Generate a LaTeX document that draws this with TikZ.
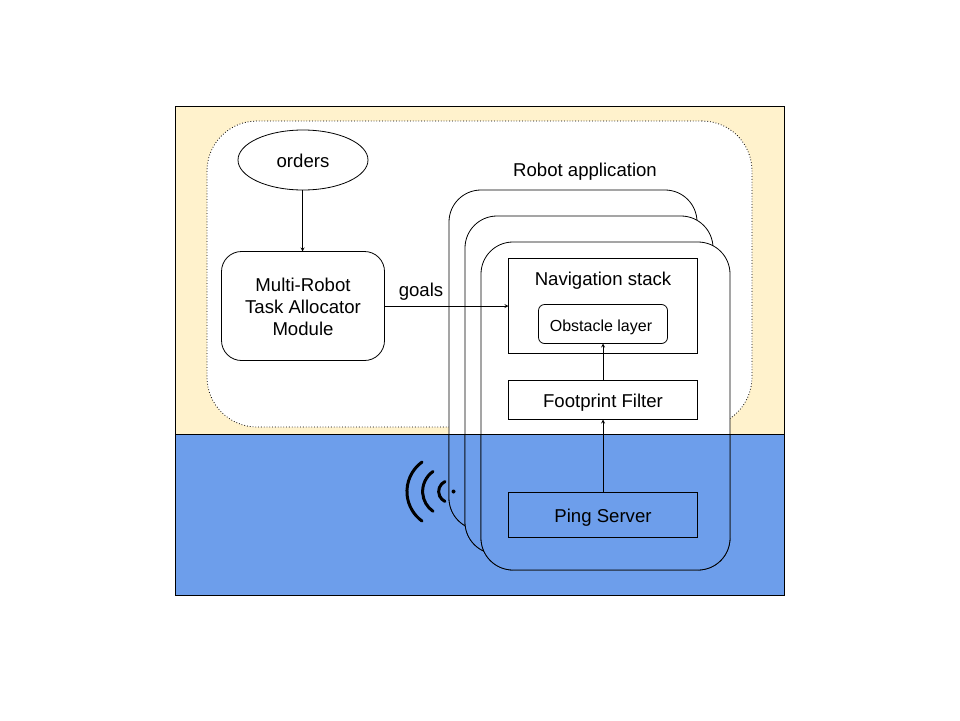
\documentclass[tikz,border=0pt]{standalone}
\usepackage{fontspec}
\setmainfont{Liberation Sans}
\usetikzlibrary{shapes.geometric}
\definecolor{sandfill}{HTML}{FFF2CC}
\definecolor{seafill}{HTML}{6D9EEB}
\tikzset{
  boxstyle/.style = {draw, line width = 0.8pt, inner sep = 0pt, outer sep = 0pt},
  robotbox/.style = {boxstyle, rounded corners = 32pt, minimum width = 248pt, minimum height = 328pt},
  wideblock/.style = {boxstyle, minimum width = 189pt},
  flow/.style = {line width = 0.8pt, -stealth},
  label/.style = {font = \fontsize{18.6}{22}\selectfont, align = center},
  wave/.style = {line width = 3pt, line cap = round}
}
\begin{document}
\begin{tikzpicture} [x = 1pt, y = -1pt]
\useasboundingbox (0, 0) rectangle (960, 720);
% background bands
\node[boxstyle, fill = sandfill, minimum width = 609pt, minimum height = 328pt] (sand) at (480, 270.5){};
\node[boxstyle, fill = seafill, minimum width = 609pt, minimum height = 161pt] (sea) at (480, 515){};
\node[draw, dotted, line width = 0.8pt, fill = white, rounded corners = 50pt, inner sep = 0pt, minimum width = 545pt, minimum height = 306pt] (cloud) at (479.5, 274){};

% robot stack, white above the band line and blue below it
\node[robotbox, fill = white, minimum height = 340pt] (robotback) at (573, 360){};
\begin{scope}
\clip (175.5, 434) rectangle (784.5, 595.5);
\node[robotbox, fill = seafill, minimum height = 340pt] (robotbacksea) at (573, 360){};
\end{scope}
\node[robotbox, fill = white, minimum height = 338pt] (robotmid) at (589, 385){};
\begin{scope}
\clip (175.5, 434) rectangle (784.5, 595.5);
\node[robotbox, fill = seafill, minimum height = 338pt] (robotmidsea) at (589, 385){};
\end{scope}
\node[robotbox, fill = white, minimum width = 249pt] (robotfront) at (605.5, 406){};
\begin{scope}
\clip (175.5, 434) rectangle (784.5, 595.5);
\node[robotbox, fill = seafill, minimum width = 249pt] (robotfrontsea) at (605.5, 406){};
\end{scope}
\draw[line width = 0.8pt] (sea.north west) -- (sea.north east);

% allocator side
\node[boxstyle, ellipse, minimum width = 130pt, minimum height = 60pt] (orders) at (303, 160){};
\node[label] (orderstext) at (303, 161){orders};
\node[boxstyle, rounded corners = 20pt, minimum width = 163pt, minimum height = 109pt] (allocator) at (303, 306){};
\node[label] (allocatortext) at (303, 306.5){Multi-Robot\\Task Allocator\\Module};
\node[label] (goals) at (421, 292){goals};
\node[label] (robotapp) at (585, 172){Robot application};

% inner blocks
\node[wideblock, minimum height = 95pt] (navstack) at (603, 306){};
\node[label] (navtext) at (603, 281){Navigation stack};
\node[boxstyle, rounded corners = 6pt, minimum width = 129pt, minimum height = 39pt] (obstacle) at (603, 324){};
\node[label, font = \fontsize{16}{18}\selectfont] (obstacletext) at (601, 327.5){Obstacle layer};
\node[wideblock, minimum height = 39pt] (footprint) at (603, 400){};
\node[label] (footprinttext) at (603, 403){Footprint Filter};
\node[wideblock, minimum height = 45pt] (ping) at (603, 515){};
\node[label] (pingtext) at (603, 518){Ping Server};

% connectors
\draw[flow] (orders.south -| 302.5, 0) -- (allocator.north -| 302.5, 0);
\draw[flow] (allocator.east) -- (navstack.west);
\draw[flow] (footprint.north) -- (obstacle.south);
\draw[flow] (ping.north) -- (footprint.south);

% signal mark
\fill (453.5, 491.5) circle [radius = 2pt];
\draw[wave] (445, 481.5) arc [start angle = 115, end angle = 245, radius = 11pt];
\draw[wave] (433, 471.5) arc [start angle = 125, end angle = 235, radius = 24.3pt];
\draw[wave] (422, 462) arc [start angle = 126, end angle = 234, radius = 36.5pt];
\end{tikzpicture}
\end{document}
